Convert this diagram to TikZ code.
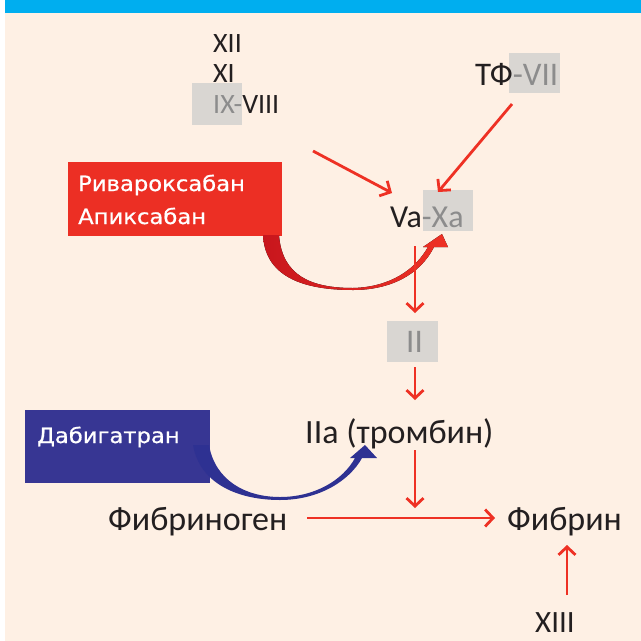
\documentclass[tikz,border=0pt]{standalone}
\usepackage{fontspec}
\setmainfont{Carlito}
\newfontfamily\drugfont[FakeBold=0.7]{DejaVu Sans}
\usetikzlibrary{arrows.meta}
\definecolor{bg}{HTML}{FEF0E4}
\definecolor{topbar}{HTML}{00AEEF}
\definecolor{ink}{HTML}{231F20}
\definecolor{grayt}{HTML}{8C8C8C}
\definecolor{grayb}{HTML}{D9D6D2}
\definecolor{arrred}{HTML}{EE3124}
\definecolor{drugred}{HTML}{EC2F24}
\definecolor{bandred}{HTML}{C8161D}
\definecolor{drugblue}{HTML}{373693}
\definecolor{bandblue}{HTML}{2E3192}
\begin{document}
\begin{tikzpicture}[x=1pt,y=-1pt,
  lbl/.style={anchor=base west, inner sep=0pt, text=ink},
  hl/.style={fill=grayb},
  flow/.style={draw=arrred, line width=2.8pt,
    -{Straight Barb[length=8pt,width=17pt,line width=2.8pt]}},
  druglbl/.style={anchor=base west, inner sep=0pt, text=white,
    font=\drugfont\fontsize{21}{25}\selectfont}]
\useasboundingbox (0,0) rectangle (641,641);
% background
\fill[white] (0,0) rectangle (641,641);
\fill[bg] (5,13) rectangle (641,641);
\fill[topbar] (5,0) rectangle (641,13);
% highlight boxes
\fill[hl] (192,83) rectangle (242,125);
\fill[hl] (509,53) rectangle (560,93);
\fill[hl] (423,190) rectangle (473,231);
\fill[hl] (387,321) rectangle (438,362);
% factor labels
\node[lbl, font=\fontsize{28}{32}\selectfont] (xii) at (213,52) {XII};
\node[lbl, font=\fontsize{28}{32}\selectfont] (xi) at (213,82) {XI};
\node[lbl, font=\fontsize{28}{32}\selectfont] (ixviii) at (213,113) {\textcolor{grayt}{IX-}VIII};
\node[lbl, font=\fontsize{33}{38}\selectfont] (tf) at (475,85) {ТФ\textcolor{grayt}{-VII}};
\node[lbl, font=\fontsize{32}{38}\selectfont] (vaxa) at (390,227) {Va\textcolor{grayt}{-Xa}};
\node[lbl, font=\fontsize{33}{38}\selectfont, text=grayt] (ii) at (406,352) {II};
\node[lbl, font=\fontsize{34}{40}\selectfont] (iia) at (305,443) {IIa (тромбин)};
\node[lbl, font=\fontsize{34}{40}\selectfont] (fibrinogen) at (108,530) {Фибриноген};
\node[lbl, font=\fontsize{34}{40}\selectfont] (fibrin) at (507,530) {Фибрин};
\node[lbl, font=\fontsize{31}{36}\selectfont] (xiii) at (535,632) {XIII};
% drug boxes
\fill[drugred] (68,162) rectangle (282,236);
\node[druglbl] (riva) at (78,191) {\scalebox{1.08}[1]{Ривароксабан}};
\node[druglbl] (apix) at (78,224) {\scalebox{1.08}[1]{Апиксабан}};
\fill[drugblue] (25,410) rectangle (210,483);
\node[druglbl] (dabi) at (37,443) {\scalebox{1.08}[1]{Дабигатран}};
% curved inhibitor arrows
\fill[left color=bandred, right color=arrred]
  (263,235) .. controls (265,275) and (300,290) .. (353,290)
  .. controls (390,290) and (420,275) .. (434,247)
  -- (448,247) -- (442,234) -- (423,247) -- (428,247)
  .. controls (415,270) and (390,287) .. (353,288)
  .. controls (310,288) and (282,275) .. (279,235) -- cycle;
\fill[bandblue]
  (193,445) .. controls (200,485) and (240,500) .. (280,500)
  .. controls (320,500) and (350,480) .. (362,458)
  -- (377,458) -- (365,445) -- (350,458) -- (355,458)
  .. controls (343,480) and (315,497) .. (280,497)
  .. controls (245,497) and (215,480) .. (209,445) -- cycle;
% connector endpoints
\coordinate (ixout) at (313,151);
\coordinate (vain) at (392,193);
\coordinate (tfout) at (512,104);
\coordinate (xain) at (438,192);
\coordinate (xaout) at (415,246);
\coordinate (iiin) at (415,313);
\coordinate (iiout) at (415,367);
\coordinate (iiain) at (415,400);
\coordinate (iiaout) at (415,450);
\coordinate (iiaend) at (415,508);
\coordinate (fgout) at (307,518);
\coordinate (fin) at (495,518);
\coordinate (xiiiout) at (567,595);
\coordinate (fbot) at (567,545);
% connectors
\draw[flow] (ixout) -- (vain);
\draw[flow] (tfout) -- (xain);
\draw[flow] (xaout) -- (iiin);
\draw[flow] (iiout) -- (iiain);
\draw[flow] (iiaout) -- (iiaend);
\draw[flow] (fgout) -- (fin);
\draw[flow] (xiiiout) -- (fbot);
\end{tikzpicture}
\end{document}
